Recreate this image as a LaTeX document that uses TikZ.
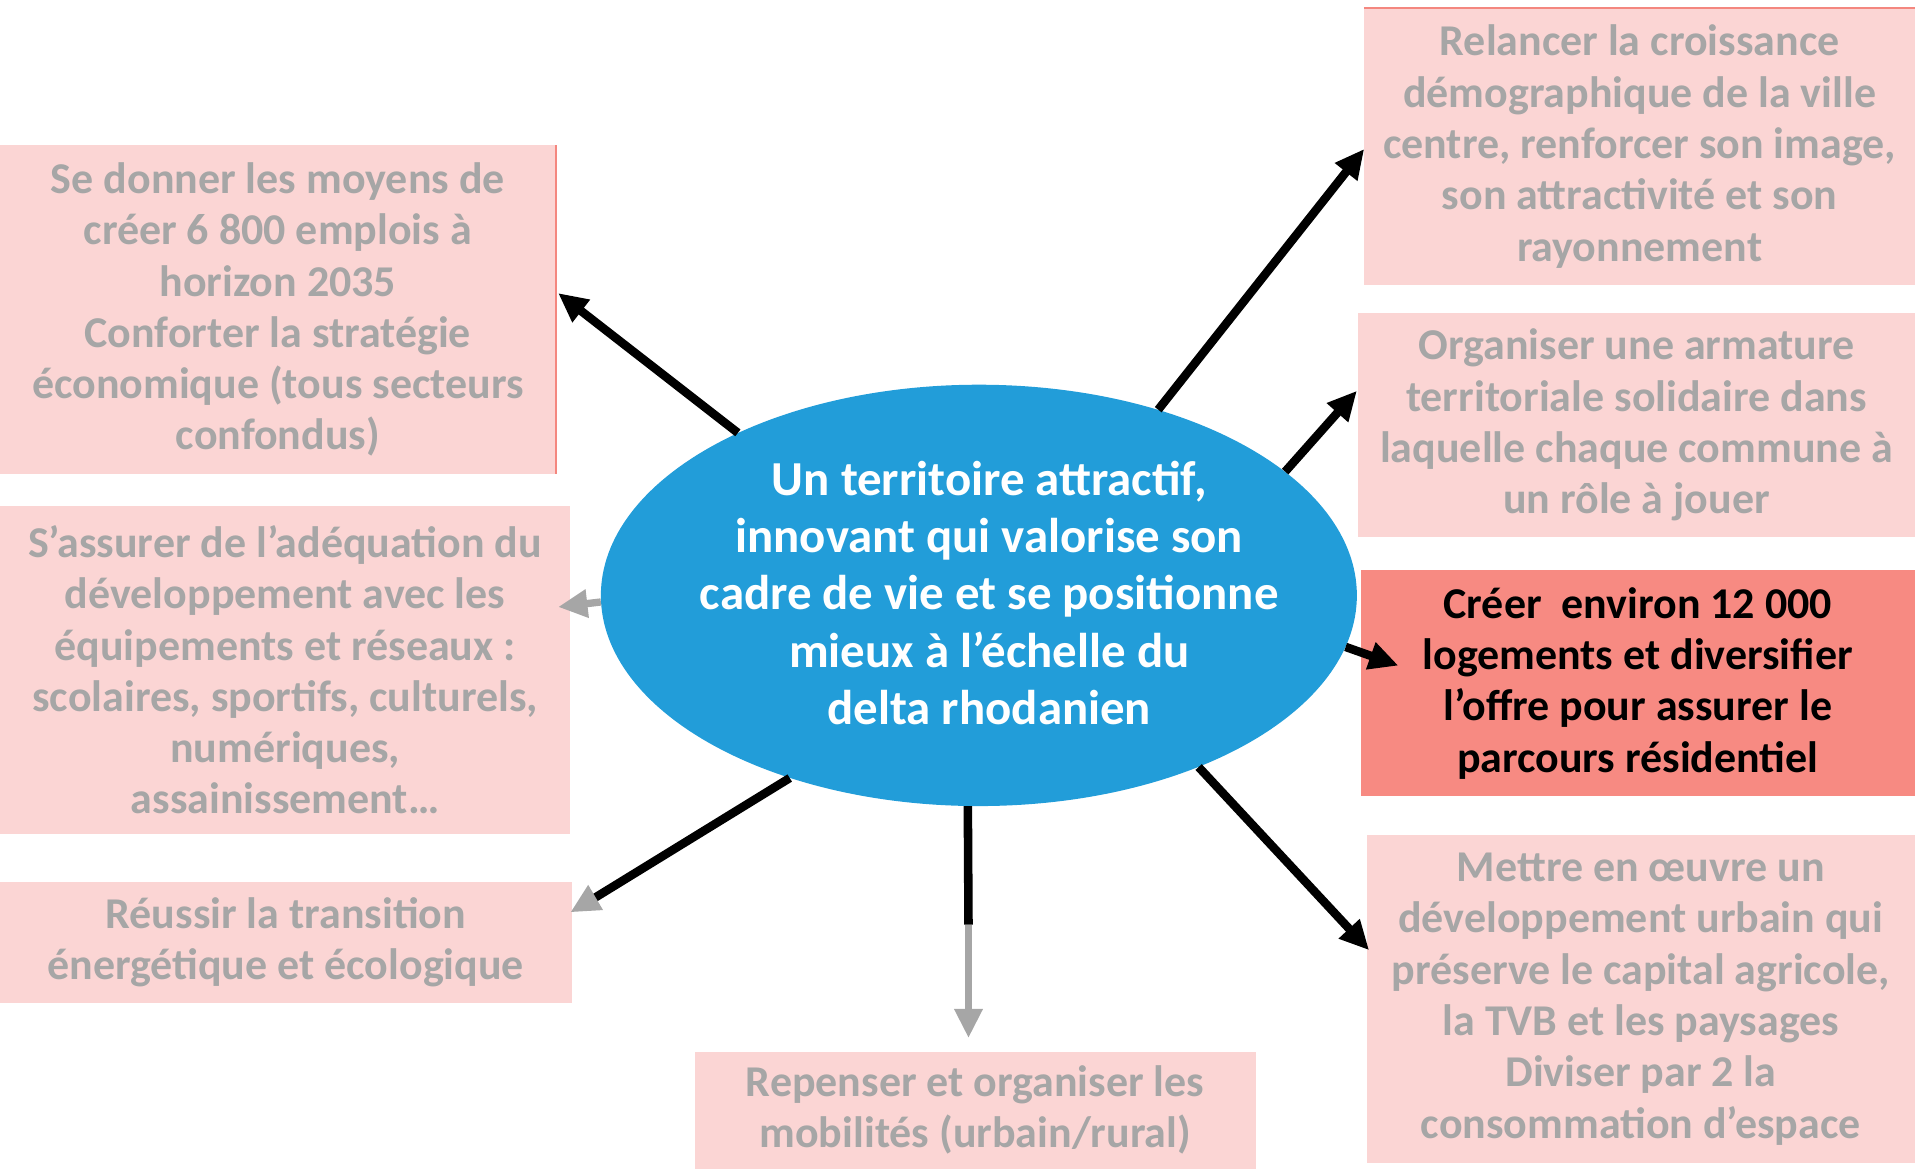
\documentclass[tikz,border=0pt]{standalone}
\usepackage{fontspec}
\setmainfont{Carlito}
\usetikzlibrary{arrows.meta,shapes.geometric}
\definecolor{pinkfill}{HTML}{FBD5D4}
\definecolor{greytext}{HTML}{A6A6A6}
\definecolor{salmonfill}{HTML}{F78A82}
\definecolor{blueell}{HTML}{229DD9}
\definecolor{salmonline}{HTML}{F4877F}
\begin{document}
\begin{tikzpicture}[x=1pt,y={(0pt,-1pt)},
  boxtxt/.style={font=\fontsize{36}{42}\selectfont\bfseries, align=center},
  pinkbox/.style={boxtxt, rectangle, fill=pinkfill, text=greytext, inner sep=0pt},
  redbox/.style={boxtxt, rectangle, fill=salmonfill, text=black, inner sep=0pt},
  blkline/.style={draw=black, line width=7pt},
  blkarrow/.style={blkline, -{Triangle[length=24pt,width=22pt]}},
  greyline/.style={draw=greytext, line width=6pt},
  greyarrow/.style={greyline, -{Triangle[length=24pt,width=22pt]}},
  edge/.style={draw=salmonline, line width=1.5pt}
]
\useasboundingbox (0,0) rectangle (1568,957);

% boxes
\node[pinkbox, minimum width=455pt, minimum height=269pt] (A) at (227.5,253.5)
  {Se donner les moyens de\\créer 6 800 emplois à\\horizon 2035\\Conforter la stratégie\\économique (tous secteurs\\confondus)};
\node[pinkbox, minimum width=467pt, minimum height=269pt] (B) at (233.5,548.5)
  {S’assurer de l’adéquation du\\développement avec les\\équipements et réseaux :\\scolaires, sportifs, culturels,\\numériques,\\assainissement…};
\node[pinkbox, minimum width=468pt, minimum height=99pt] (C) at (234,771.5)
  {Réussir la transition\\énergétique et écologique};
\node[pinkbox, minimum width=459pt, minimum height=96pt] (D) at (798.5,909)
  {Repenser et organiser les\\mobilités (urbain/rural)};
\node[pinkbox, minimum width=449pt, minimum height=268pt] (E) at (1343.5,818)
  {Mettre en œuvre un\\développement urbain qui\\préserve le capital agricole,\\la TVB et les paysages\\Diviser par 2 la\\consommation d’espace};
\node[redbox, minimum width=454pt, minimum height=185pt] (F) at (1341,559.5)
  {Créer \ environ 12 000\\logements et diversifier\\l’offre pour assurer le\\parcours résidentiel};
\node[pinkbox, minimum width=456pt, minimum height=184pt] (G) at (1340,348)
  {Organiser une armature\\territoriale solidaire dans\\laquelle chaque commune à\\un rôle à jouer};
\node[pinkbox, minimum width=451pt, minimum height=226pt] (H) at (1342.5,120)
  {Relancer la croissance\\démographique de la ville\\centre, renforcer son image,\\son attractivité et son\\rayonnement};

\draw[edge] (A.north east) -- (A.south east);
\draw[edge] (H.north west) -- (H.north east);

% centre
\node[ellipse, fill=blueell, minimum width=619pt, minimum height=345pt, inner sep=0pt] (ell) at (801.5,487.5) {};
\node[text=white, font=\fontsize{40}{47}\selectfont\bfseries, align=center, inner sep=0pt] (elltext) at (810,485.5)
  {Un territoire attractif,\\innovant qui valorise son\\cadre de vie et se positionne\\mieux à l’échelle du\\delta rhodanien};

% arrow end points
\coordinate (tA) at (457,240);
\coordinate (tB) at (457,497);
\coordinate (mC) at (484,737);
\coordinate (tC) at (467,747);
\coordinate (mD) at (793,757);
\coordinate (tD) at (793,850);
\coordinate (tE) at (1121,778);
\coordinate (tF) at (1145,545);
\coordinate (tG) at (1111,320);
\coordinate (tH) at (1117,122);

% connectors
\draw[blkarrow] (ell.146.7) -- (tA);
\draw[greyarrow] (ell.181.5) -- (tB);
\draw[blkline] (ell.224.4) -- (mC);
\draw[greyarrow] (mC) -- (tC);
\draw[blkline] (ell.267) -- (mD);
\draw[greyarrow] (mD) -- (tD);
\draw[blkarrow] (ell.322.7) -- (tE);
\draw[blkarrow] (ell.352) -- (tF);
\draw[blkarrow] (ell.22.7) -- (tG);
\draw[blkarrow] (ell.46.3) -- (tH);
\end{tikzpicture}
\end{document}
